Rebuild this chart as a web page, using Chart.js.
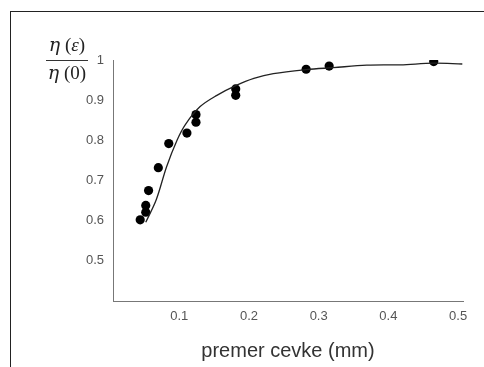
<!DOCTYPE html>
<html>
<head>
<meta charset="utf-8">
<script src="https://cdn.jsdelivr.net/npm/chart.js@4/dist/chart.umd.min.js"></script>
<style>
  html, body { margin: 0; padding: 0; background: #fff; overflow: hidden; }
  #wrap { position: relative; width: 484px; height: 367px; }
  #frame { position: absolute; left: 10px; top: 11px; width: 520px; height: 400px; border: 1px solid #222; }
  #plot { position: absolute; left: 0; top: 0; }
</style>
</head>
<body>
<div id="wrap">
  <div id="frame"></div>
  <canvas id="plot" width="484" height="367"></canvas>
</div>
<script>
// merjene tocke
const sampleX = [0.044, 0.052, 0.052, 0.056, 0.070, 0.085, 0.111, 0.124, 0.124, 0.181, 0.181, 0.282, 0.315, 0.465];
const sampleY = [0.602, 0.638, 0.621, 0.675, 0.732, 0.792, 0.818, 0.864, 0.845, 0.928, 0.912, 0.977, 0.985, 0.996];

// prilagojena krivulja
const fitX = [0.052, 0.067, 0.082, 0.097, 0.109, 0.130, 0.154, 0.181, 0.207, 0.235, 0.282, 0.321, 0.369, 0.417, 0.465, 0.506];
const fitY = [0.596, 0.652, 0.735, 0.801, 0.840, 0.884, 0.912, 0.936, 0.954, 0.966, 0.976, 0.981, 0.987, 0.988, 0.992, 0.990];

const xTicks = [0.1, 0.2, 0.3, 0.4, 0.5];
const yTicks = [0.5, 0.6, 0.7, 0.8, 0.9, 1];

const PAD = { left: 10, top: 60, right: 21, bottom: 4 };

// ulomek eta(eps)/eta(0) levo zgoraj
const fractionLabel = {
    id: 'fractionLabel',
    afterDraw(chart) {
        const ctx = chart.ctx;
        const it = 'italic 19px "DejaVu Serif", "Liberation Serif", serif';
        const up = '19px "Liberation Serif", serif';
        ctx.save();
        ctx.fillStyle = '#222';
        ctx.textBaseline = 'middle';
        ctx.textAlign = 'left';
        const drawPart = (y, arg, argItalic) => {
            const pieces = [['\u03B7', it], [' (', up], [arg, argItalic ? 'italic ' + up : up], [')', up]];
            let total = 0;
            pieces.forEach(p => { ctx.font = p[1]; total += ctx.measureText(p[0]).width; });
            let x = 67 - total / 2;
            pieces.forEach(p => {
                ctx.font = p[1];
                ctx.fillText(p[0], x, y);
                x += ctx.measureText(p[0]).width;
            });
        };
        drawPart(46, '\u03B5', true);
        drawPart(74, '0', false);
        ctx.strokeStyle = '#333';
        ctx.lineWidth = 1;
        ctx.beginPath();
        ctx.moveTo(46, 60.5);
        ctx.lineTo(88, 60.5);
        ctx.stroke();
        ctx.restore();
    }
};

const tickFont = { family: '"Liberation Sans", Arial, sans-serif', size: 13 };

new Chart(document.getElementById('plot').getContext('2d'), {
    type: 'scatter',
    data: {
        datasets: [
            {
                label: 'krivulja',
                data: fitX.map((x, i) => ({ x, y: fitY[i] })),
                showLine: true,
                borderColor: '#222',
                borderWidth: 1.3,
                pointRadius: 0,
                tension: 0.35,
                fill: false,
            },
            {
                label: 'meritve',
                data: sampleX.map((x, i) => ({ x, y: sampleY[i] })),
                backgroundColor: '#000',
                borderColor: '#000',
                pointRadius: 4.6,
                pointBorderWidth: 0,
            }
        ]
    },
    options: {
        responsive: false,
        animation: false,
        layout: { padding: PAD },
        plugins: { legend: { display: false }, tooltip: { enabled: false } },
        scales: {
            x: {
                type: 'linear',
                min: 0.005,
                max: 0.507,
                afterBuildTicks: s => { s.ticks = xTicks.map(v => ({ value: v })); },
                afterFit: s => { s.height = 367 - 301 - PAD.bottom; },
                grid: { display: false, drawTicks: false },
                border: { color: '#777', width: 1 },
                ticks: {
                    color: '#555', font: tickFont, padding: 8, maxRotation: 0,
                    callback: v => String(v)
                },
                title: {
                    display: true,
                    text: 'premer cevke (mm)',
                    color: '#333',
                    font: { family: '"Liberation Sans", Arial, sans-serif', size: 20 },
                    padding: { top: 8, bottom: 0 }
                }
            },
            y: {
                type: 'linear',
                min: 0.4,
                max: 1.0,
                afterBuildTicks: s => { s.ticks = yTicks.map(v => ({ value: v })); },
                afterFit: s => { s.width = 113 - PAD.left; },
                grid: { display: false, drawTicks: false },
                border: { color: '#777', width: 1 },
                ticks: {
                    color: '#555', font: tickFont, padding: 9,
                    callback: v => String(v)
                }
            }
        }
    },
    plugins: [fractionLabel]
});
</script>
</body>
</html>
